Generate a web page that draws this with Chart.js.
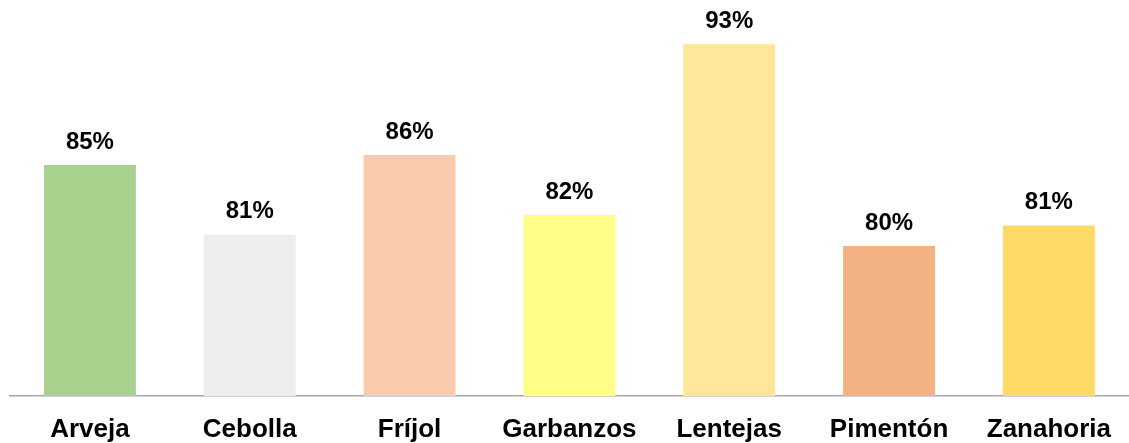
<!DOCTYPE html>
<html>
<head>
<meta charset="utf-8">
<script src="https://cdn.jsdelivr.net/npm/chart.js@4/dist/chart.umd.min.js"></script>
<style>
  html, body { margin: 0; padding: 0; background: #fff; }
  #wrap { width: 1129px; height: 443px; }
</style>
</head>
<body>
<div id="wrap"><canvas id="chart" width="1129" height="443"></canvas></div>
<script>
// data
const categories = ["Arveja", "Cebolla", "Fríjol", "Garbanzos", "Lentejas", "Pimentón", "Zanahoria"];
const values = [85.2, 80.7, 85.85, 81.98, 93.0, 79.98, 81.3];
const barColors = ["#a9d18e", "#ededed", "#f8cbad", "#ffff88", "#ffe699", "#f4b183", "#ffd966"];

// draws the % label above each bar
const valueLabels = {
  id: "valueLabels",
  afterDatasetsDraw(chart) {
    const ctx = chart.ctx;
    const meta = chart.getDatasetMeta(0);
    ctx.save();
    ctx.font = "bold 24px 'Liberation Sans', Arial, sans-serif";
    ctx.fillStyle = "#000";
    ctx.textAlign = "center";
    ctx.textBaseline = "middle";
    meta.data.forEach((bar, i) => {
      ctx.fillText(Math.round(values[i]) + "%", bar.x, bar.y - 23);
    });
    ctx.restore();
  }
};

const ctx = document.getElementById("chart").getContext("2d");
new Chart(ctx, {
  type: "bar",
  data: {
    labels: categories,
    datasets: [{
      data: values,
      backgroundColor: barColors,
      barPercentage: 0.575,
      categoryPercentage: 1
    }]
  },
  options: {
    responsive: false,
    animation: false,
    layout: { padding: { left: 10, right: 0, top: 0, bottom: 0 } },
    plugins: { legend: { display: false }, tooltip: { enabled: false } },
    scales: {
      x: {
        grid: { display: false, drawTicks: false },
        border: { display: true, color: "#a6a6a6", width: 1.5 },
        ticks: {
          color: "#000",
          padding: 18,
          maxRotation: 0,
          font: { family: "'Liberation Sans', Arial, sans-serif", size: 26, weight: "bold" }
        },
        afterFit(scale) { scale.height = 47; }
      },
      y: {
        display: false,
        min: 70.3,
        max: 95.85
      }
    }
  },
  plugins: [valueLabels]
});
</script>
</body>
</html>
